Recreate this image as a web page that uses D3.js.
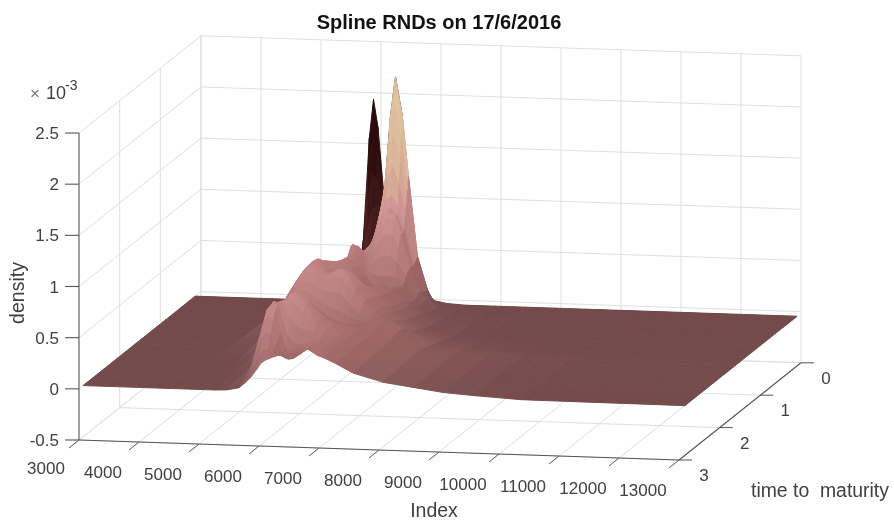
<!DOCTYPE html>
<html><head><meta charset="utf-8">
<script src="https://cdn.jsdelivr.net/npm/d3@7"></script>
<style>
html,body{margin:0;padding:0;background:#fff}
svg{display:block;filter:blur(0.55px)}
text{font-family:"Liberation Sans",Arial,sans-serif;fill:#404040}
</style></head><body>
<script>
const titleText = "Spline RNDs on 17/6/2016";
const xTicks = [3000,4000,5000,6000,7000,8000,9000,10000,11000,12000,13000];
const tTicks = [0,1,2,3];
const zTicks = [-0.5,0,0.5,1,1.5,2,2.5];
const zLabels = ["-0.5","0","0.5","1","1.5","2","2.5"];
// Index grid of the surface
const indexGrid = [3000,4600,5000,5200,5400,5600,5700,5800,5900,5970,6045,6120,6200,6293,6377,6493,6593,6743,6910,7010,7200,7500,8000,8500,9000,9500,10300,13030];
// Time to maturity of each row, back to front
const maturities = [0.14,0.2,0.3,0.4,0.55,0.8,1.1,1.5,1.7,2.0,2.4,2.65,2.9];
// density x 1e-3, one row per maturity
const density = [
[0,0,0,0,0,.02,.15,.6,1.6,1.98,1.71,1.2,.7,.35,.3,.25,.2,.12,.05,.03,.01,0,0,0,0,0,0,0],
[0,0,0,0,.01,.05,.1,.2,.4,.55,.7,.9,1.15,1.84,2.23,1.84,1.26,.48,.157,.04,.01,0,0,0,0,0,0,0],
[0,0,0,.01,.03,.12,.22,.35,.5,.58,.62,.72,.9,1.05,1.09,.98,.78,.42,.17,.09,.03,.01,0,0,0,0,0,0],
[0,0,0,.01,.05,.25,.42,.64,.62,.55,.5,.55,.72,.85,.91,.88,.72,.42,.2,.12,.05,.015,0,0,0,0,0,0],
[0,0,0,.01,.1,.3,.42,.52,.59,.57,.5,.4,.32,.27,.25,.26,.29,.3,.15,.1,.05,.02,.005,0,0,0,0,0],
[0,0,.02,.08,.2,.38,.5,.6,.62,.58,.52,.46,.4,.35,.33,.36,.38,.33,.23,.18,.11,.05,.01,0,0,0,0,0],
[0,0,.16,.34,.51,.67,.72,.7,.62,.56,.5,.46,.43,.42,.44,.47,.46,.38,.28,.23,.16,.08,.02,.005,0,0,0,0],
[0,0,.06,.2,.42,.62,.7,.76,.78,.76,.72,.7,.72,.75,.76,.68,.58,.45,.36,.32,.27,.17,.08,.04,.02,.01,0,0],
[0,0,.03,.14,.3,.47,.52,.53,.51,.49,.46,.43,.39,.35,.32,.3,.29,.28,.29,.31,.35,.26,.11,.07,.06,.03,.01,0],
[0,0,.01,.03,.1,.27,.38,.5,.6,.64,.63,.58,.52,.47,.44,.42,.4,.38,.36,.34,.3,.24,.16,.1,.06,.03,.01,0],
[0,0,0,.01,.03,.12,.22,.38,.55,.66,.74,.8,.81,.76,.7,.62,.56,.48,.4,.36,.3,.23,.15,.09,.055,.03,.01,0],
[0,0,0,.005,.02,.1,.25,.5,.72,.77,.72,.5,.35,.28,.28,.32,.36,.4,.38,.35,.29,.22,.14,.085,.05,.025,.005,0],
[0,0,0,0,.005,.03,.08,.14,.22,.28,.31,.33,.35,.37,.39,.42,.44,.43,.37,.35,.3,.21,.13,.09,.05,.03,.005,0]
];
const colorZ = [0,.1,.25,.45,.7,.95,1.15,1.5,2.3];
const colorRange = ["#744b4b","#865757","#9b6565","#af7474","#bf8181","#cc8e8e","#d4a28f","#dbb896","#e0c39f"];
const darkRange = ["#5a2b2b","#2b0a0a"];

const W=894,H=524;
const svg=d3.select("body").append("svg").attr("width",W).attr("height",H);
// Affine axonometric view built from three scales
const sxX=d3.scaleLinear([3000,13000],[79,679]);
const syX=d3.scaleLinear([3000,13000],[0,20]);
const sxT=d3.scaleLinear([3,0],[0,122]);
const syT=d3.scaleLinear([3,0],[0,-97.2]);
const syZ=d3.scaleLinear([-0.5,2.5],[440,133]);
const P=(x,t,z)=>[sxX(x)+sxT(t), syZ(z)+syX(x)+syT(t)];
const color=d3.scaleLinear(colorZ,colorRange).clamp(true);
const dark=d3.scaleLinear([0.2,1.5],darkRange).clamp(true);
const line=(a,b,c,w)=>svg.append("line").attr("x1",a[0]).attr("y1",a[1]).attr("x2",b[0]).attr("y2",b[1]).attr("stroke",c).attr("stroke-width",w);
const grid="#dfdfdf";
const zb=-0.5,zt=2.5;
// back wall and left wall
xTicks.forEach(x=>line(P(x,0,zb),P(x,0,zt),grid,1));
zTicks.forEach(z=>{line(P(3000,0,z),P(13000,0,z),grid,1);line(P(3000,3,z),P(3000,0,z),grid,1);});
tTicks.forEach(t=>{ if(t<3) line(P(3000,t,zb),P(3000,t,zt),grid,1); line(P(3000,t,zb),P(13000,t,zb),grid,1);});
xTicks.forEach(x=>line(P(x,3,zb),P(x,0,zb),grid,1));

// surface: rows are drawn back to front, smoothed between rows when painted
const cr=(a,b,c,d,f)=>0.5*(2*b+(c-a)*f+(2*a-5*b+4*c-d)*f*f+(3*b-a-3*c+d)*f*f*f);
const zAt=(i,f,k)=>{
  const n=density.length;
  if(i<2) return density[i][k]*(1-f)+density[i+1][k]*f;
  const a=density[i-1][k],b=density[i][k],c=density[i+1][k],d=density[Math.min(i+2,n-1)][k];
  return Math.max(0,cr(a,b,c,d,f));
};
const quads=[];
const bands=4;
for(let i=0;i<maturities.length-1;i++){
  const tAt=f=>maturities[i]*(1-f)+maturities[i+1]*f;
  for(let b=0;b<bands;b++){
    const f0=b/bands,f1=(b+1)/bands;
    for(let j=0;j<indexGrid.length-1;j++){
      const pts=[P(indexGrid[j],tAt(f0),zAt(i,f0,j)),P(indexGrid[j+1],tAt(f0),zAt(i,f0,j+1)),
                 P(indexGrid[j+1],tAt(f1),zAt(i,f1,j+1)),P(indexGrid[j],tAt(f1),zAt(i,f1,j))];
      const zm=(zAt(i,f0,j)+zAt(i,f0,j+1)+zAt(i,f1,j)+zAt(i,f1,j+1))/4;
      const dzdt=(zAt(i,f1,j)+zAt(i,f1,j+1)-zAt(i,f0,j)-zAt(i,f0,j+1))/2/(tAt(f1)-tAt(f0));
      const dzdx=(zm>0.002)?((zAt(i,f0,j+1)-zAt(i,f0,j))/(indexGrid[j+1]-indexGrid[j])*1000):0;
      let c;
      if(i===0 && (density[0][j]+density[0][j+1])/2>0.25){ c=dark(zm); }
      else{
        const lit=Math.max(-.2,Math.min(.05,-dzdt*0.05+dzdx*0.03));
        c=lit>=0?d3.interpolateRgb(color(zm),"#ffffff")(lit):d3.interpolateRgb(color(zm),"#3a1414")(-lit);
      }
      quads.push({pts,c});
    }
  }
}
svg.append("g").style("filter","blur(0.6px)").selectAll("path").data(quads).join("path")
  .attr("d",d=>d3.line()(d.pts)+"Z").attr("fill",d=>d.c).attr("stroke",d=>d.c).attr("stroke-width",1);

// axes
const axc="#555555";
line(P(3000,3,zb),P(3000,3,zt),axc,1.1);
line(P(3000,3,zb),P(13000,3,zb),axc,1.1);
line(P(13000,3,zb),P(13000,0,zb),axc,1.1);
const g=svg.append("g");
zTicks.forEach((z,i)=>{
  const p=P(3000,3,z);
  line([p[0]-14,p[1]],p,axc,1.1);
  g.append("text").attr("x",p[0]-20).attr("y",p[1]+6).attr("text-anchor","end").attr("font-size",17).text(zLabels[i]);
});
xTicks.forEach(x=>{
  const p=P(x,3,zb);
  line(p,[p[0]-10,p[1]+8],axc,1);
  g.append("text").attr("x",x===3000?p[0]-33:p[0]-36).attr("y",x===3000?p[1]+34:p[1]+36).attr("text-anchor","middle").attr("font-size",17).text(x);
});
tTicks.forEach(t=>{
  const p=P(13000,t,zb);
  line(p,[p[0]+13,p[1]],axc,1);
  g.append("text").attr("x",p[0]+25).attr("y",p[1]+21).attr("text-anchor","middle").attr("font-size",17).text(t);
});
g.append("text").attr("x",439).attr("y",29).attr("text-anchor","middle").attr("font-size",20).attr("font-weight","bold").style("fill","#111").text(titleText);
g.append("text").attr("x",434).attr("y",517).attr("text-anchor","middle").attr("font-size",19.5).text("Index");
g.append("text").attr("x",751).attr("y",497).attr("font-size",19.4).style("white-space","pre").text("time to  maturity");
g.append("text").attr("transform","translate(24,293) rotate(-90)").attr("text-anchor","middle").attr("font-size",19.5).text("density");
g.append("text").attr("x",30).attr("y",99).attr("font-size",17).style("fill","#777").text("×");
g.append("text").attr("x",46).attr("y",99).attr("font-size",18).text("10");
g.append("text").attr("x",65).attr("y",90).attr("font-size",14).text("-3");
</script>
</body></html>
